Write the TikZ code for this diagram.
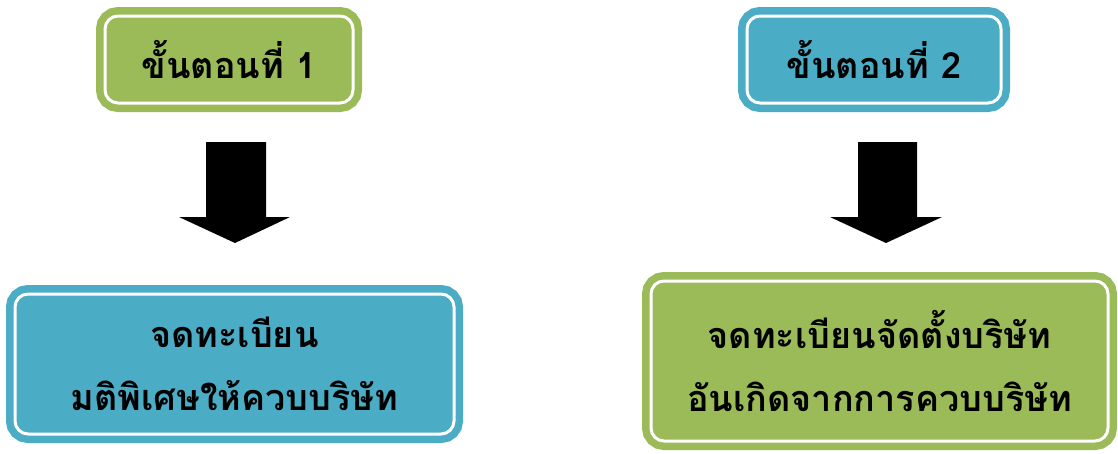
\documentclass[tikz,border=0pt]{standalone}
\usepackage{fontspec}
\newfontfamily\thaifont[Script=Thai]{Loma}
\definecolor{olive}{HTML}{9BBB59}
\definecolor{aqua}{HTML}{4BACC6}
\tikzset{
  box/.style={rectangle, rounded corners=13pt, draw=white, line width=3pt,
    fill=#1, preaction={draw=#1, line width=18pt}, inner sep=0pt,
    align=center, text=black, font=\thaifont\bfseries\fontsize{36}{63}\selectfont},
  blockarrow/.style={fill=black, draw=none}
}
\begin{document}
\begin{tikzpicture}[x=1pt,y=-1pt]
\useasboundingbox (0,0) rectangle (1118,453);
\node[box=olive, minimum width=248pt, minimum height=87pt] (s1) at (229,59.5) {ขั้นตอนที่ 1};
\node[box=aqua, minimum width=254pt, minimum height=87pt] (s2) at (874,59.5) {ขั้นตอนที่ 2};
\node[box=aqua, minimum width=439pt, minimum height=140pt] (r1) at (234.5,364) {จดทะเบียน\\มติพิเศษให้ควบบริษัท};
\node[box=olive, minimum width=457pt, minimum height=160pt] (r2) at (879.5,361) {จดทะเบียนจัดตั้งบริษัท\\อันเกิดจากการควบบริษัท};
\fill[blockarrow] (206,142) -- (266,142) -- (266,217) -- (290,217) -- (235,243) -- (179,217) -- (206,217) -- cycle;
\fill[blockarrow] (858,142) -- (917,142) -- (917,217) -- (942,217) -- (886,243) -- (830,217) -- (858,217) -- cycle;
\end{tikzpicture}
\end{document}
